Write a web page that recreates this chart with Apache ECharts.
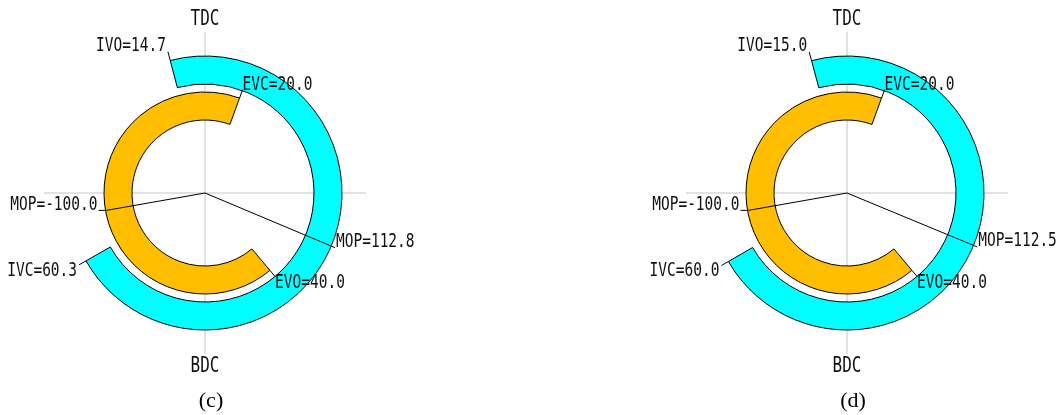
<!DOCTYPE html>
<html>
<head>
<meta charset="utf-8">
<script src="https://cdn.jsdelivr.net/npm/echarts@6/dist/echarts.min.js"></script>
<style>
  html, body { margin: 0; padding: 0; background: #fff; }
  #chart { width: 1061px; height: 415px; }
</style>
</head>
<body>
<div id="chart"></div>
<script>
// panel captions
const panels = ["(c)", "(d)"];
// valve events in crank degrees (two cases)
const ivo = [14.7, 15.0];
const ivc = [60.3, 60.0];
const evo = [40.0, 40.0];
const evc = [20.0, 20.0];
const mopIntake = [112.8, 112.5];
const mopExhaust = [-100.0, -100.0];
// dead centre labels
const deadCentres = ["TDC", "BDC"];

document.addEventListener("DOMContentLoaded", function () {
  const chart = echarts.init(document.getElementById("chart"));

  // layout
  const centers = [[205, 193], [847, 193]];
  const axisR = 161;
  const exhaustRing = [73, 101];
  const intakeRing = [109, 137];
  const monoFont = '14.5px "DejaVu Sans Mono"';
  const stretch = 1.3;

  const norm = (a) => ((a % 360) + 360) % 360;

  const polar = [];
  const angleAxis = [];
  const radiusAxis = [];
  const series = [];
  const labelSpecs = [];

  centers.forEach((c, i) => {
    polar.push({ center: c, radius: axisR });
    angleAxis.push({
      polarIndex: i,
      type: "value",
      min: 0,
      max: 360,
      interval: 90,
      startAngle: 90,
      clockwise: true,
      axisLine: { show: false },
      axisTick: { show: false },
      axisLabel: { show: false },
      splitLine: { show: true, lineStyle: { color: "#c4c4c4", width: 1 } },
    });
    radiusAxis.push({
      polarIndex: i,
      type: "value",
      min: 0,
      max: axisR,
      axisLine: { show: false },
      axisTick: { show: false },
      axisLabel: { show: false },
      splitLine: { show: false },
    });

    // exhaust valve: opens before BDC, closes after TDC
    const exStart = 180 - evo[i];
    const exSpan = evo[i] + 180 + evc[i];
    // intake valve: opens before TDC, closes after BDC
    const inStart = -ivo[i];
    const inSpan = ivo[i] + 180 + ivc[i];

    const ring = (radius, start, span, color) => ({
      type: "pie",
      center: c,
      radius: radius,
      startAngle: norm(90 - start),
      clockwise: true,
      silent: true,
      animation: false,
      label: { show: false },
      labelLine: { show: false },
      emphasis: { disabled: true },
      data: [
        { value: span, itemStyle: { color: color, borderColor: "#000", borderWidth: 1 } },
        { value: 360 - span, itemStyle: { color: "transparent", borderWidth: 0 } },
      ],
    });
    series.push(ring(exhaustRing, exStart, exSpan, "#ffbf00"));
    series.push(ring(intakeRing, inStart, inSpan, "#00ffff"));

    const specs = [
      { text: "IVO=" + ivo[i].toFixed(1), r0: intakeRing[1], r: 146, a: norm(-ivo[i]), align: "right", dx: -2, dy: -6 },
      { text: "IVC=" + ivc[i].toFixed(1), r0: intakeRing[1], r: 145, a: 180 + ivc[i], align: "right", dx: -2, dy: 6 },
      { text: "EVO=" + evo[i].toFixed(1), r0: exhaustRing[1], r: 109, a: 180 - evo[i], align: "left", dx: 0, dy: 7 },
      { text: "EVC=" + evc[i].toFixed(1), r0: exhaustRing[1], r: 110, a: evc[i], align: "left", dx: 0, dy: -5 },
      { text: "MOP=" + mopIntake[i].toFixed(1), r0: 0, r: 141, a: mopIntake[i], align: "left", dx: 1, dy: -6 },
      { text: "MOP=" + mopExhaust[i].toFixed(1), r0: 0, r: exhaustRing[1] - 1, a: norm(mopExhaust[i]), align: "right", dx: -9, dy: -5, tail: 8 },
    ];
    specs.forEach((s) => {
      s.seriesIndex = series.length;
      series.push({
        type: "line",
        coordinateSystem: "polar",
        polarIndex: i,
        symbol: "none",
        silent: true,
        animation: false,
        z: 5,
        lineStyle: { color: "#000", width: 1 },
        data: [[s.r0, s.a], [s.r, s.a]],
      });
      labelSpecs.push(s);
    });
    // dead centre labels, anchored on the axis
    const last = series.length - 1;
    labelSpecs.push({ text: deadCentres[0], r: 173, a: 0, align: "center", dx: 0, dy: 0, seriesIndex: last, big: true });
    labelSpecs.push({ text: deadCentres[1], r: 174, a: 180, align: "center", dx: 0, dy: 0, seriesIndex: last, big: true });
  });

  chart.setOption({
    animation: false,
    polar: polar,
    angleAxis: angleAxis,
    radiusAxis: radiusAxis,
    series: series,
  });

  const graphic = [];
  labelSpecs.forEach((s) => {
    const p = chart.convertToPixel({ seriesIndex: s.seriesIndex }, [s.r, s.a]);
    if (!p) return;
    if (s.tail) {
      graphic.push({
        type: "line",
        silent: true,
        z: 20,
        shape: { x1: p[0], y1: p[1], x2: p[0] - s.tail, y2: p[1] },
        style: { stroke: "#000", lineWidth: 1 },
      });
    }
    graphic.push({
      type: "text",
      silent: true,
      z: 20,
      x: p[0] + s.dx,
      y: p[1] + s.dy,
      scaleY: stretch,
      style: {
        text: s.text,
        font: s.big ? '16px "DejaVu Sans Mono"' : monoFont,
        fill: "#111",
        align: s.align,
        textAlign: s.align,
        verticalAlign: "middle",
        textVerticalAlign: "middle",
      },
    });
  });
  centers.forEach((c, i) => {
    graphic.push({
      type: "text",
      silent: true,
      z: 20,
      x: c[0] + 6,
      y: c[1] + 208,
      style: {
        text: panels[i],
        font: '22px "Liberation Serif"',
        fill: "#000",
        align: "center",
        textAlign: "center",
        verticalAlign: "middle",
        textVerticalAlign: "middle",
      },
    });
  });
  chart.setOption({ graphic: graphic });
});
</script>
</body>
</html>
